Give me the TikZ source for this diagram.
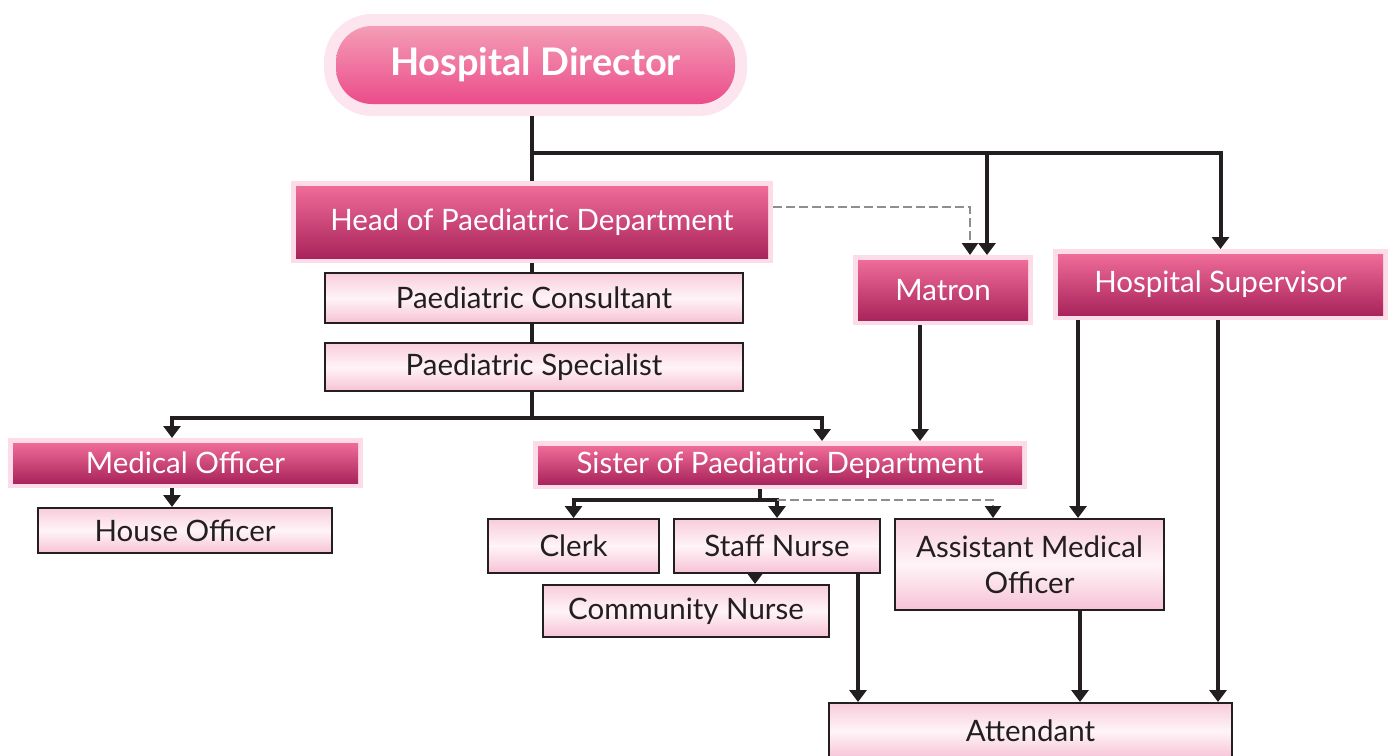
\documentclass[tikz,border=0pt]{standalone}
\usepackage{fontspec}
\setmainfont{Lato}
\usetikzlibrary{arrows.meta,calc}

\definecolor{ink}{HTML}{231F20}
\definecolor{glow}{HTML}{FBDCE8}
\definecolor{dirglow}{HTML}{FCE5EF}
\definecolor{darktop}{HTML}{EF6C98}
\definecolor{darkbot}{HTML}{A9245B}
\definecolor{dirtop}{HTML}{F49DB6}
\definecolor{dirbot}{HTML}{EB4C8A}
\definecolor{lighttop}{HTML}{F8CCDC}
\definecolor{lightmid}{HTML}{FFF4F8}
\definecolor{lightbot}{HTML}{F6C2D5}
\definecolor{dashgray}{HTML}{8E8E8E}

\tikzset{
  x=1pt, y=-1pt,
  base/.style={inner sep=0pt, align=center, font=\fontsize{29.5}{36}\selectfont},
  dirbox/.style={base, rounded corners=36pt, top color=dirtop, bottom color=dirbot,
    preaction={draw=dirglow, line width=24pt}, outer sep=12pt, text=white,
    font=\fontsize{38}{44}\selectfont\bfseries},
  rolebox/.style={base, top color=darktop, bottom color=darkbot,
    preaction={draw=glow, line width=10pt}, outer sep=5pt, text=white},
  staffbox/.style={base, draw=ink, line width=2pt, top color=lighttop,
    bottom color=lightbot, middle color=lightmid, text=ink},
  conn/.style={draw=ink, line width=4pt},
  arr/.style={conn, -{Triangle[width=17pt,length=12pt]}},
  dasharr/.style={draw=dashgray, line width=2.5pt, dash pattern=on 9pt off 4pt,
    -{Triangle[width=16pt,length=12pt,color=ink]}},
}

\begin{document}
\begin{tikzpicture}
\useasboundingbox (0,0) rectangle (1391,755);

% senior roles
\node[dirbox, minimum width=399pt, minimum height=78pt] (dir) at (535.5,65) {Hospital Director};
\node[rolebox, minimum width=472pt, minimum height=72pt] (head) at (532,222) {Head of Paediatric Department};
\node[rolebox, minimum width=170pt, minimum height=60pt] (matron) at (943,290) {Matron};
\node[rolebox, minimum width=325pt, minimum height=61pt] (hs) at (1220.5,284.5) {Hospital Supervisor};
\node[rolebox, minimum width=345pt, minimum height=40pt] (med) at (185.5,463) {Medical Officer};
\node[rolebox, minimum width=484pt, minimum height=38pt] (sister) at (780,465) {Sister of Paediatric Department};

% staff boxes
\node[staffbox, minimum width=418pt, minimum height=50pt] (cons) at (534,298) {Paediatric Consultant};
\node[staffbox, minimum width=418pt, minimum height=48pt] (spec) at (534,367) {Paediatric Specialist};
\node[staffbox, minimum width=294pt, minimum height=45pt] (house) at (185,530.5) {House Officer};
\node[staffbox, minimum width=171pt, minimum height=54pt] (clerk) at (573.5,546) {Clerk};
\node[staffbox, minimum width=206pt, minimum height=54pt] (staff) at (777,546) {Staff Nurse};
\node[staffbox, minimum width=286pt, minimum height=52pt] (comm) at (686,611) {Community Nurse};
\node[staffbox, minimum width=269pt, minimum height=91pt] (amo) at (1029.5,564.5) {Assistant Medical\\Officer};
\node[staffbox, minimum width=403pt, minimum height=56pt] (att) at (1030.5,731) {Attendant};

% guide coordinates for bus lines and taps
\coordinate (ytop) at (0,153);
\coordinate (yspec) at (0,418);
\coordinate (ysis) at (0,500);
\coordinate (ydash) at (0,207);
\coordinate (xmat) at (987,0);
\coordinate (xdash) at (970,0);
\coordinate (xmed) at (172,0);
\coordinate (xsis) at (822,0);
\coordinate (xmsis) at (920,0);
\coordinate (xsnode) at (760,0);
\coordinate (xamo) at (993,0);
\coordinate (xhsa) at (1078,0);
\coordinate (xhsb) at (1218,0);
\coordinate (xcomm) at (755,0);
\coordinate (xsn) at (858,0);
\coordinate (xamoatt) at (1080,0);

% director level
\draw[conn] (dir.south -| head.north) -- (head.north);
\draw[arr] (head.north |- ytop) -| (hs.north);
\draw[arr] (xmat |- ytop) -- (xmat |- matron.north);
\draw[dasharr] (head.east |- ydash) -| (xdash |- matron.north);

% paediatric line
\draw[conn] (head.south) -- (cons.north -| head.south);
\draw[conn] (cons.south -| head.south) -- (spec.north -| head.south);
\draw[arr] (spec.south -| head.south) -- (head.south |- yspec) -| (xmed |- med.north);
\draw[arr] (head.south |- yspec) -| (xsis |- sister.north);
\draw[arr] (xmed |- med.south) -- (xmed |- house.north);

% nursing line
\draw[arr] (xmsis |- matron.south) -- (xmsis |- sister.north);
\draw[arr] (xsnode |- sister.south) -- (xsnode |- ysis) -| (clerk.north);
\draw[arr] (xsnode |- ysis) -| (staff.north);
\draw[dasharr] (staff.north |- ysis) -| (xamo |- amo.north);
\draw[arr] (xcomm |- staff.south) -- (xcomm |- comm.north);

% supervisor line and attendant
\draw[arr] (xhsa |- hs.south) -- (xhsa |- amo.north);
\draw[arr] (xhsb |- hs.south) -- (xhsb |- att.north);
\draw[arr] (xsn |- staff.south) -- (xsn |- att.north);
\draw[arr] (xamoatt |- amo.south) -- (xamoatt |- att.north);
\end{tikzpicture}
\end{document}
